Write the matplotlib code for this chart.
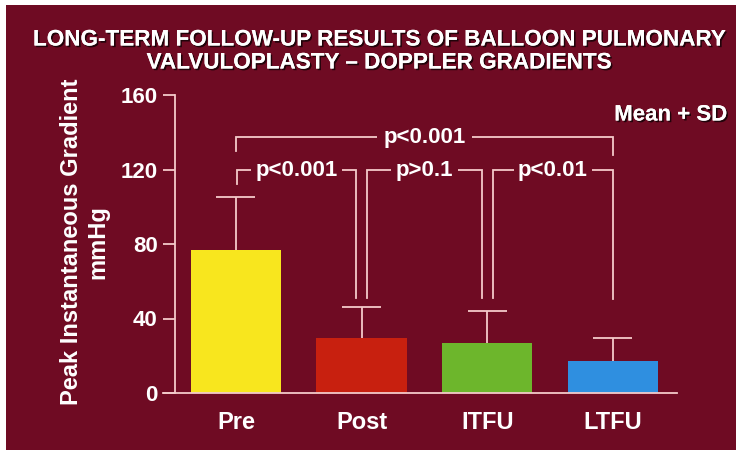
import matplotlib
matplotlib.use("Agg")
import matplotlib.pyplot as plt
from matplotlib.patches import Rectangle
import matplotlib.patheffects as pe

# ---- data ----
categories = ["Pre", "Post", "ITFU", "LTFU"]
means = [77, 29.5, 26.8, 17.2]
sds = [28, 16.7, 17.4, 12.5]
bar_colors = ["#F8E61E", "#C8200F", "#6DB62C", "#2F8FE0"]
yticks = [0, 40, 80, 120, 160]
pair_labels = ["p<0.001", "p>0.1", "p<0.01"]
overall_label = "p<0.001"
title_line1 = "LONG-TERM FOLLOW-UP RESULTS OF BALLOON PULMONARY"
title_line2 = "VALVULOPLASTY \u2013 DOPPLER GRADIENTS"
ylabel_line1 = "Peak Instantaneous Gradient"
ylabel_line2 = "mmHg"
note_text = "Mean + SD"

BG = "#6F0B23"
LINE = "#F4CACA"
FONT = ["Liberation Sans", "DejaVu Sans"]
plt.rcParams["font.family"] = FONT

W, H = 736, 453
fig = plt.figure(figsize=(W / 100, H / 100), dpi=100)
fig.patch.set_facecolor("white")
fig.add_artist(Rectangle((6 / W, 3 / H), 1 - 6 / W, (448 - 3) / H,
                         transform=fig.transFigure, facecolor=BG,
                         edgecolor="none", zorder=0))

def fx(px):
    return px / W

def fy(py):
    return 1 - py / H

left, right, top, bottom = 175, 677, 95, 393
ax = fig.add_axes([fx(left), fy(bottom), (right - left) / W, (bottom - top) / H])
ax.set_facecolor("none")
x = list(range(len(categories)))
tops = [m + s for m, s in zip(means, sds)]
ax.bar(x, means, width=0.72, color=bar_colors, zorder=2)
ax.vlines(x, means, tops, colors=LINE, lw=1.3, zorder=3)
ax.hlines(tops, [i - 0.155 for i in x], [i + 0.155 for i in x], colors=LINE, lw=1.3, zorder=3)
ax.set_xlim(-0.485, 3.51)
ax.set_ylim(0, 160)
ax.set_yticks(yticks)
ax.set_xticks(x)
ax.set_xticklabels(categories)
for s in ["top", "right"]:
    ax.spines[s].set_visible(False)
for s in ["left", "bottom"]:
    ax.spines[s].set_color(LINE)
    ax.spines[s].set_linewidth(1.3)
ax.tick_params(axis="y", direction="out", length=8.5, width=1.3, color=LINE,
               labelcolor="white", labelsize=16, pad=4)
ax.tick_params(axis="x", length=0, labelcolor="white", labelsize=17, pad=13)
for lbl in ax.get_xticklabels() + ax.get_yticklabels():
    lbl.set_fontweight("bold")
ax.spines["bottom"].set_bounds(-0.58, 3.51)

# ---- significance brackets ----
lw = 1.3
yb = 119.7
off = 0.045
legs_bottom = [112, 51, 51, 50.5]
for i, lab in enumerate(pair_labels):
    xl = x[i] + (off if i > 0 else 0.01)
    xr = x[i + 1] - (off if i + 1 < 3 else 0.0)
    ax.plot([xl, xl, xr, xr], [legs_bottom[i], yb, yb, legs_bottom[i + 1]],
            color=LINE, lw=lw, zorder=3, solid_joinstyle="miter")
    ax.text((xl + xr) / 2, yb, lab, ha="center", va="center", color="white",
            fontsize=16, fontweight="bold", zorder=4,
            bbox=dict(boxstyle="square,pad=0.2", facecolor=BG, edgecolor="none"))

yt = 137.4
ax.plot([x[0], x[0], x[3], x[3]], [130, yt, yt, 128], color=LINE, lw=lw,
        zorder=3, solid_joinstyle="miter")
ax.text((x[0] + x[3]) / 2, yt, overall_label, ha="center", va="center",
        color="white", fontsize=16, fontweight="bold", zorder=4,
        bbox=dict(boxstyle="square,pad=0.3", facecolor=BG, edgecolor="none"))

# ---- text ----
shadow = [pe.withSimplePatchShadow(offset=(1.2, -1.2), shadow_rgbFace="black", alpha=0.7), pe.Normal()]
fig.text(fx(379), fy(40), title_line1, ha="center", va="center", color="white",
         fontsize=16.2, fontweight="bold", path_effects=shadow)
fig.text(fx(379), fy(63), title_line2, ha="center", va="center", color="white",
         fontsize=16.2, fontweight="bold", path_effects=shadow)
fig.text(fx(727), fy(115), note_text, ha="right", va="center", color="white",
         fontsize=16, fontweight="bold", path_effects=shadow)
fig.text(fx(72), fy(242), ylabel_line1, rotation=90, ha="center", va="center",
         color="white", fontsize=17, fontweight="bold")
fig.text(fx(98), fy(242), ylabel_line2, rotation=90, ha="center", va="center",
         color="white", fontsize=17, fontweight="bold")

fig.savefig("out.png", dpi=100, facecolor=fig.get_facecolor())
